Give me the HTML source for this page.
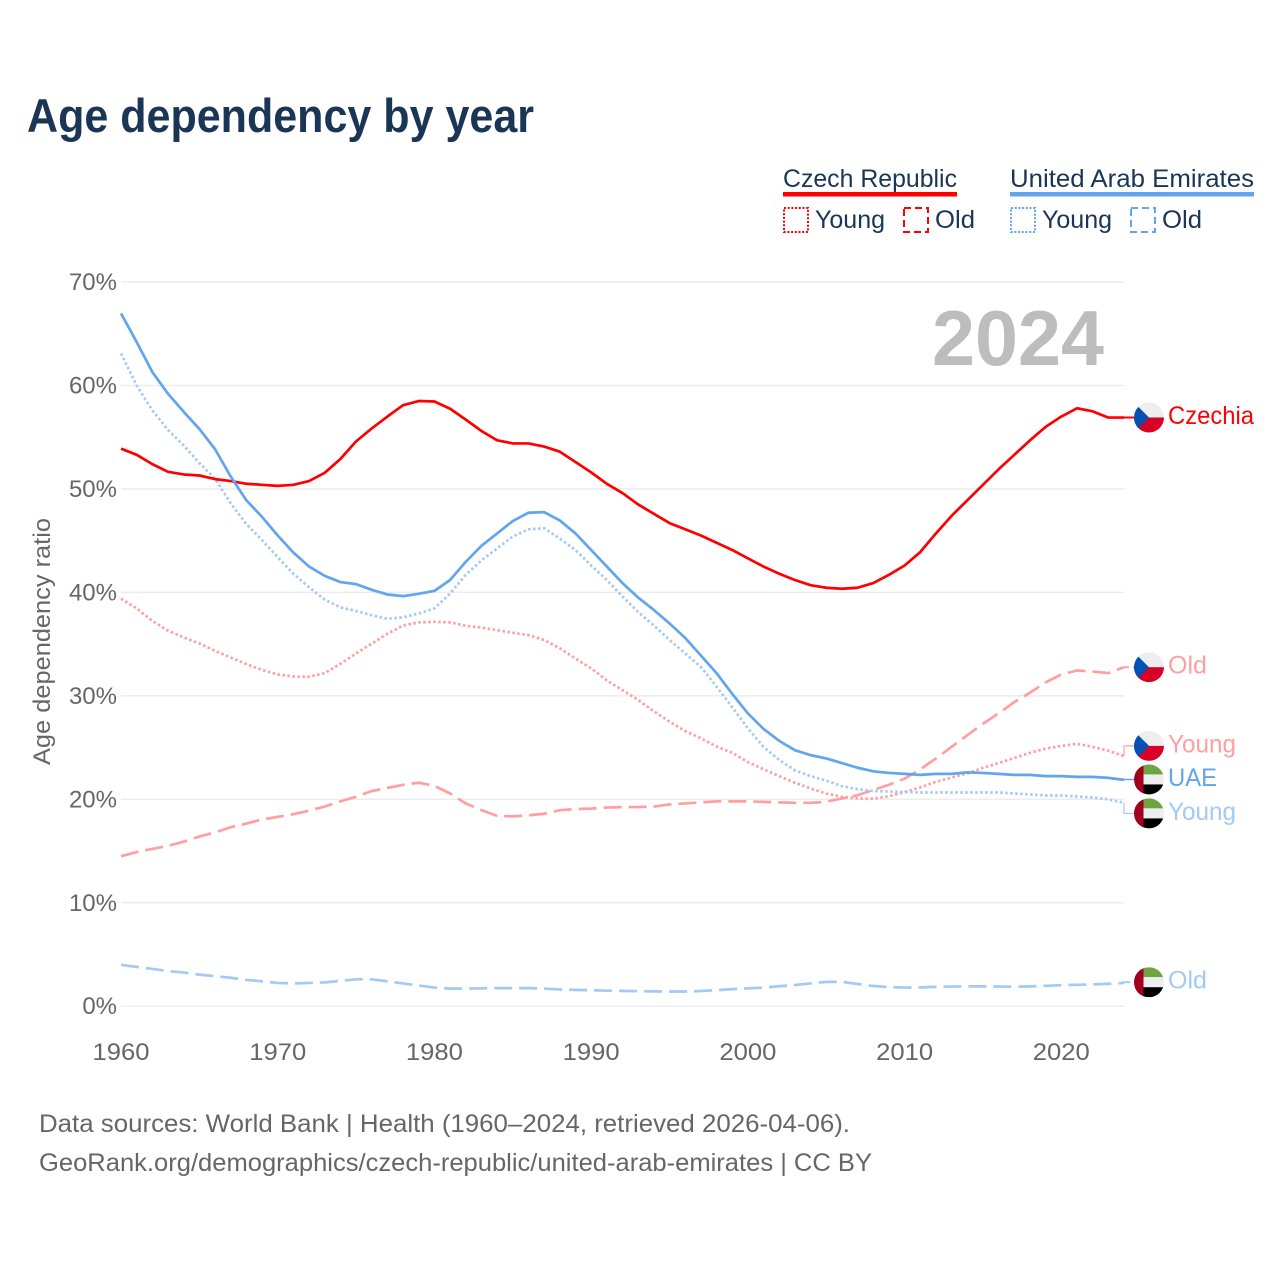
<!DOCTYPE html>
<html lang="en">
<head>
<meta charset="utf-8">
<title>Age dependency by year</title>
<style>
html,body{margin:0;padding:0;background:#fff;width:1280px;height:1280px;overflow:hidden}
svg{display:block;font-family:"Liberation Sans",sans-serif}
</style>
</head>
<body>
<svg id="chart" xmlns="http://www.w3.org/2000/svg" width="1280" height="1280" viewBox="0 0 1280 1280">
  <rect x="0" y="0" width="1280" height="1280" fill="#fff"/>
  <text x="27" y="132" font-size="47" font-weight="700" fill="#1a3555" textLength="507" lengthAdjust="spacingAndGlyphs">Age dependency by year</text>

  <g fill="#1a3555" font-size="25">
    <text x="783" y="187" textLength="174" lengthAdjust="spacingAndGlyphs">Czech Republic</text>
    <rect x="783" y="192" width="174" height="4.5" fill="#ff0000"/>
    <rect x="784" y="208" width="24" height="24" fill="none" stroke="#ff0000" stroke-width="2" stroke-dasharray="2 1.7"/>
    <text x="815" y="228" textLength="70" lengthAdjust="spacingAndGlyphs">Young</text>
    <rect x="904" y="208" width="24" height="24" fill="none" stroke="#ff0000" stroke-width="2" stroke-dasharray="7 4"/>
    <text x="935" y="228" textLength="40" lengthAdjust="spacingAndGlyphs">Old</text>
    <text x="1010" y="187" textLength="244" lengthAdjust="spacingAndGlyphs">United Arab Emirates</text>
    <rect x="1010" y="192" width="244" height="4.5" fill="#60a5ee"/>
    <rect x="1011" y="208" width="24" height="24" fill="none" stroke="#60a5ee" stroke-width="2" stroke-dasharray="2 1.7"/>
    <text x="1042" y="228" textLength="70" lengthAdjust="spacingAndGlyphs">Young</text>
    <rect x="1131" y="208" width="24" height="24" fill="none" stroke="#60a5ee" stroke-width="2" stroke-dasharray="7 4"/>
    <text x="1162" y="228" textLength="40" lengthAdjust="spacingAndGlyphs">Old</text>
  </g>

  <g id="grid"></g>
  <g id="yticks"></g>
  <g id="xticks"></g>
  <text transform="translate(50,765) rotate(-90)" x="0" y="0" font-size="24" fill="#666" textLength="247" lengthAdjust="spacingAndGlyphs">Age dependency ratio</text>
  <text x="932" y="365" font-size="78" font-weight="700" fill="#bdbdbd" textLength="172" lengthAdjust="spacingAndGlyphs">2024</text>

  <g id="series"></g>
  <g id="ends"></g>

  <g fill="#666" font-size="25">
    <text x="39" y="1132" textLength="811" lengthAdjust="spacingAndGlyphs">Data sources: World Bank | Health (1960–2024, retrieved 2026-04-06).</text>
    <text x="39" y="1171" textLength="833" lengthAdjust="spacingAndGlyphs">GeoRank.org/demographics/czech-republic/united-arab-emirates | CC BY</text>
  </g>
</svg>
<script>
const yTickValues = [0, 10, 20, 30, 40, 50, 60, 70];
const xTickValues = [1960, 1970, 1980, 1990, 2000, 2010, 2020];
const firstYear = 1960;

const czechiaTotal = [53.9,53.3,52.4,51.66,51.4,51.3,50.95,50.76,50.5,50.4,50.3,50.4,50.76,51.56,52.9,54.6,55.85,57.0,58.1,58.5,58.45,57.75,56.7,55.6,54.7,54.4,54.4,54.1,53.6,52.6,51.6,50.5,49.6,48.5,47.6,46.7,46.1,45.5,44.8,44.1,43.3,42.5,41.8,41.2,40.7,40.45,40.35,40.45,40.9,41.7,42.6,43.9,45.7,47.4,48.9,50.4,51.9,53.3,54.7,56.0,57.0,57.8,57.5,56.9,56.9];
const czechiaYoung = [39.4,38.45,37.25,36.3,35.65,35.06,34.35,33.7,33.07,32.5,32.07,31.87,31.84,32.2,33.1,34.1,35.05,36.0,36.8,37.1,37.16,37.1,36.77,36.6,36.35,36.1,35.87,35.4,34.6,33.6,32.65,31.5,30.55,29.6,28.5,27.5,26.6,25.9,25.1,24.5,23.6,22.9,22.24,21.6,21.05,20.56,20.24,20.08,20.05,20.3,20.7,21.14,21.7,22.1,22.5,23.04,23.5,24.0,24.5,24.9,25.16,25.36,25.07,24.7,24.17];
const czechiaOld = [14.5,14.9,15.2,15.5,15.9,16.4,16.8,17.3,17.65,18.05,18.3,18.56,18.9,19.3,19.8,20.24,20.8,21.1,21.4,21.6,21.3,20.56,19.6,18.95,18.4,18.35,18.45,18.6,18.95,19.05,19.1,19.2,19.25,19.25,19.3,19.5,19.6,19.7,19.8,19.8,19.8,19.75,19.7,19.66,19.66,19.76,20.08,20.4,20.9,21.4,22.0,22.9,23.95,25.07,26.2,27.3,28.3,29.4,30.3,31.3,32.07,32.45,32.35,32.2,32.77];
const uaeTotal = [66.97,64.2,61.3,59.2,57.46,55.8,53.85,51.2,48.9,47.3,45.5,43.85,42.5,41.6,41.0,40.8,40.25,39.8,39.64,39.86,40.15,41.2,42.96,44.5,45.7,46.9,47.7,47.76,46.96,45.7,44.1,42.5,40.9,39.5,38.3,37.0,35.6,33.9,32.2,30.2,28.3,26.8,25.65,24.75,24.27,23.95,23.5,23.05,22.7,22.55,22.46,22.36,22.46,22.46,22.6,22.55,22.46,22.36,22.36,22.24,22.24,22.17,22.17,22.07,21.88];
const uaeYoung = [63.1,60.0,57.6,55.7,54.2,52.5,51.0,48.6,46.6,45.05,43.4,41.8,40.5,39.3,38.55,38.2,37.8,37.45,37.6,37.96,38.45,39.9,41.7,43.1,44.25,45.4,46.1,46.2,45.2,44.1,42.6,41.2,39.6,38.1,36.8,35.4,34.1,32.8,30.9,28.9,26.85,25.07,23.8,22.8,22.24,21.8,21.27,20.98,20.8,20.75,20.7,20.66,20.66,20.66,20.66,20.66,20.66,20.56,20.47,20.37,20.37,20.27,20.17,20.0,19.66];
const uaeOld = [4.0,3.8,3.6,3.4,3.25,3.05,2.9,2.75,2.55,2.4,2.25,2.2,2.25,2.3,2.45,2.6,2.6,2.4,2.2,2.0,1.8,1.7,1.7,1.72,1.75,1.75,1.75,1.7,1.62,1.58,1.55,1.5,1.48,1.45,1.43,1.42,1.42,1.47,1.55,1.65,1.72,1.8,1.93,2.05,2.2,2.35,2.35,2.15,1.95,1.85,1.8,1.82,1.87,1.9,1.92,1.92,1.9,1.88,1.92,1.97,2.03,2.07,2.1,2.17,2.25];

const SVGNS = 'http://www.w3.org/2000/svg';
const xScale = function (year) { return 121 + (year - 1960) * 15.672; };
const yScale = function (pct) { return 1006.2 - pct * 10.345; };
const X_END = xScale(2024);
const FLAG_X = 1149;
const FLAG_R = 15;

function make(tag, attrs, parent) {
  const el = document.createElementNS(SVGNS, tag);
  Object.keys(attrs).forEach(function (k) { el.setAttribute(k, attrs[k]); });
  parent.appendChild(el);
  return el;
}

const gridG = document.getElementById('grid');
const yG = document.getElementById('yticks');
const xG = document.getElementById('xticks');
const seriesG = document.getElementById('series');
const endsG = document.getElementById('ends');

yTickValues.forEach(function (v) {
  const line = make('line', {x1: 121, x2: X_END, y1: yScale(v), y2: yScale(v), stroke: '#ececec', 'stroke-width': 1.5}, gridG);
  
  
  const t = make('text', {x: 117, y: yScale(v) + 8, 'text-anchor': 'end', 'font-size': 24, fill: '#666'}, yG);
  
  
  t.textContent = v + '%';
});

xTickValues.forEach(function (v) {
  const t = make('text', {x: xScale(v), y: 1060, 'text-anchor': 'middle', 'font-size': 24, fill: '#666', textLength: 57, lengthAdjust: 'spacingAndGlyphs'}, xG);
  
  
  t.textContent = v;
});

function drawSeries(values, color, dash, name) {
  const d = values.map(function (v, i) {
    return (i ? 'L' : 'M') + xScale(firstYear + i).toFixed(2) + ' ' + yScale(v).toFixed(2);
  }).join(' ');
  const attrs = {d: d, fill: 'none', stroke: color, 'stroke-width': 2.7, 'stroke-linejoin': 'round'};
  if (dash) attrs['stroke-dasharray'] = dash;
  const p = make('path', attrs, seriesG);
  
  
}

const RED = '#ff0000';
const BLUE = '#60a5ee';
const RED_LIGHT = '#ff9f9f';
const BLUE_LIGHT = '#a3c9f5';
const DOT = '2.5 2.5';
const DASH = '18 7';

drawSeries(czechiaYoung, RED_LIGHT, DOT, 'line-czechia-young');
drawSeries(czechiaOld, RED_LIGHT, DASH, 'line-czechia-old');
drawSeries(uaeYoung, BLUE_LIGHT, DOT, 'line-uae-young');
drawSeries(uaeOld, BLUE_LIGHT, DASH, 'line-uae-old');
drawSeries(czechiaTotal, RED, null, 'line-czechia-total');
drawSeries(uaeTotal, BLUE, null, 'line-uae-total');

let clipCount = 0;
function drawFlag(kind, cy, parent) {
  clipCount += 1;
  const id = 'flag-clip-' + clipCount;
  const g = make('g', {}, parent);
  
  
  const cp = make('clipPath', {id: id}, g);
  make('circle', {cx: FLAG_X, cy: cy, r: FLAG_R}, cp);
  const inner = make('g', {'clip-path': 'url(#' + id + ')'}, g);
  const L = FLAG_X - FLAG_R;
  const T = cy - FLAG_R;
  if (kind === 'cz') {
    make('rect', {x: L, y: T, width: 30, height: 15, fill: '#eeeeee'}, inner);
    make('rect', {x: L, y: cy, width: 30, height: 15, fill: '#d80027'}, inner);
    make('path', {d: 'M' + L + ' ' + T + ' L' + FLAG_X + ' ' + cy + ' L' + L + ' ' + (cy + FLAG_R) + ' Z', fill: '#0052b4'}, inner);
  } else {
    make('rect', {x: L, y: T, width: 30, height: 10, fill: '#6da544'}, inner);
    make('rect', {x: L, y: T + 10, width: 30, height: 10, fill: '#eeeeee'}, inner);
    make('rect', {x: L, y: T + 20, width: 30, height: 10, fill: '#000000'}, inner);
    make('rect', {x: L, y: T, width: 9.5, height: 30, fill: '#a2001d'}, inner);
  }
}

function drawEnd(values, kind, label, color, offset, width, leaderWidth, dash, name) {
  const y0 = yScale(values[values.length - 1]);
  const cy = y0 + offset;
  const attrs = {
    d: 'M' + X_END + ' ' + y0 + ' L' + X_END + ' ' + cy + ' L1134 ' + cy,
    fill: 'none', stroke: color, 'stroke-width': leaderWidth
  };
  if (dash) attrs['stroke-dasharray'] = dash;
  const leader = make('path', attrs, endsG);
  
  
  drawFlag(kind, cy, endsG);
  const t = make('text', {x: 1168, y: cy + 6.5, 'font-size': 25, fill: color, textLength: width, lengthAdjust: 'spacingAndGlyphs'}, endsG);
  
  
  t.textContent = label;
}

drawEnd(czechiaTotal, 'cz', 'Czechia', RED, -0.1, 86, 2, null, 'czechia-total');
drawEnd(czechiaOld, 'cz', 'Old', RED_LIGHT, 0, 39, 2, '5 4', 'czechia-old');
drawEnd(czechiaYoung, 'cz', 'Young', RED_LIGHT, -10.3, 68, 1.2, null, 'czechia-young');
drawEnd(uaeTotal, 'uae', 'UAE', BLUE, -0.4, 49, 1.5, null, 'uae-total');
drawEnd(uaeYoung, 'uae', 'Young', BLUE_LIGHT, 10.6, 68, 1.2, null, 'uae-young');
drawEnd(uaeOld, 'uae', 'Old', BLUE_LIGHT, -0.7, 39, 2, '7 4', 'uae-old');
</script>
</body>
</html>
